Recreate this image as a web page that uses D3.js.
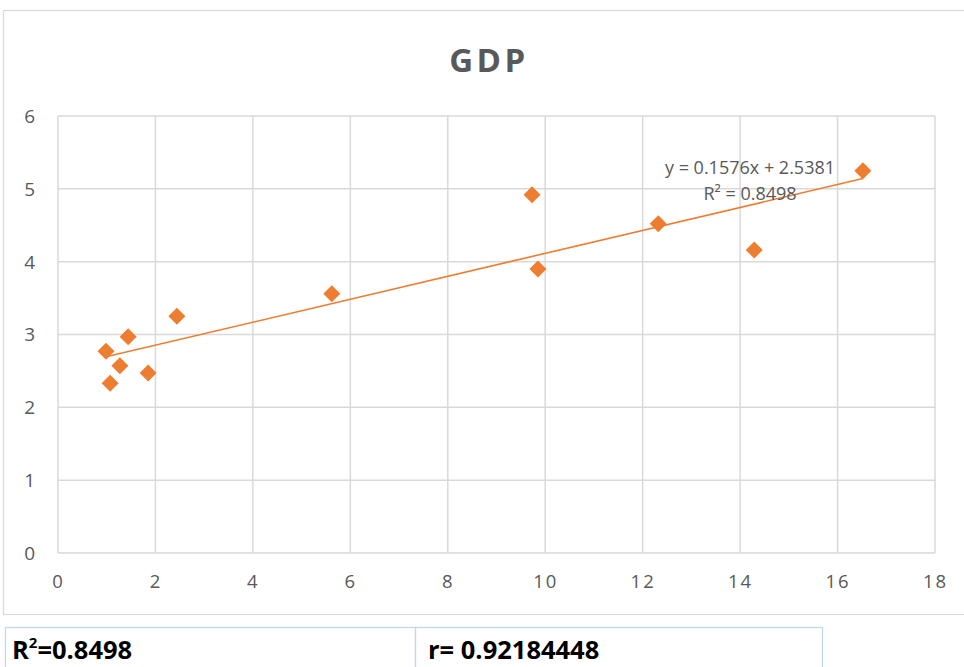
<!DOCTYPE html>
<html>
<head>
<meta charset="utf-8">
<script src="https://cdn.jsdelivr.net/npm/d3@7/dist/d3.min.js"></script>
<style>
  html, body { margin: 0; padding: 0; background: #fff; }
  svg { display: block; }
</style>
</head>
<body>
<svg id="chart" width="964" height="667"></svg>
<script>
// Observations (x, GDP)
const xValues = [0.985, 1.07, 1.27, 1.44, 1.85, 2.44, 5.62, 9.73, 9.85, 12.32, 14.29, 16.52];
const yValues = [2.77, 2.33, 2.57, 2.97, 2.47, 3.25, 3.56, 4.92, 3.90, 4.52, 4.16, 5.25];

// Linear trendline as reported
const trendSlope = 0.1576;
const trendIntercept = 2.5381;
const rSquared = 0.8498;
const rValue = 0.92184448;

const xTicks = [0, 2, 4, 6, 8, 10, 12, 14, 16, 18];
const yTicks = [0, 1, 2, 3, 4, 5, 6];
const titleText = "GDP";

const svg = d3.select("#chart");
const textGrey = "#595959";
const gridGrey = "#d9d9d9";
const orange = "#ED7D31";

// Outer chart frame
svg.append("rect")
  .attr("x", 3.5).attr("y", 10.5)
  .attr("width", 970).attr("height", 604)
  .attr("fill", "#fff").attr("stroke", gridGrey).attr("stroke-width", 1.2);

const x = d3.scaleLinear().domain([0, 18]).range([58, 935]);
const y = d3.scaleLinear().domain([0, 6]).range([553, 116]);

// Title
svg.append("text")
  .attr("x", 489).attr("y", 72)
  .attr("text-anchor", "middle")
  .attr("font-family", "'Open Sans', sans-serif")
  .attr("font-weight", "bold")
  .attr("font-size", 33)
  .attr("letter-spacing", 3.5)
  .attr("fill", textGrey)
  .text(titleText);

// Gridlines
const grid = svg.append("g").attr("stroke", gridGrey).attr("stroke-width", 1.5);
grid.selectAll("line.v").data(xTicks).join("line")
  .attr("class", "v")
  .attr("x1", d => x(d)).attr("x2", d => x(d))
  .attr("y1", y(6)).attr("y2", y(0));
grid.selectAll("line.h").data(yTicks).join("line")
  .attr("class", "h")
  .attr("x1", x(0)).attr("x2", x(18))
  .attr("y1", d => y(d)).attr("y2", d => y(d));

// Axes (labels only, lines drawn by the grid)
const yAxis = d3.axisLeft(y).tickValues(yTicks).tickFormat(d3.format("d")).tickSize(0).tickPadding(0);
const gy = svg.append("g").attr("transform", "translate(35,0)").call(yAxis);
gy.select(".domain").remove();
gy.selectAll("text")
  .attr("font-family", "'Open Sans', sans-serif")
  .attr("font-size", 19)
  .attr("fill", textGrey)
  .attr("dy", "0.34em");

const xAxis = d3.axisBottom(x).tickValues(xTicks).tickFormat(d3.format("d")).tickSize(0).tickPadding(0);
const gx = svg.append("g").attr("transform", "translate(0,575)").call(xAxis);
gx.select(".domain").remove();
gx.selectAll("text")
  .attr("font-family", "'Open Sans', sans-serif")
  .attr("font-size", 18.5)
  .attr("letter-spacing", 2)
  .attr("fill", textGrey)
  .attr("dy", "0.71em");

// Trendline across the observed x range
const xMin = d3.min(xValues), xMax = d3.max(xValues);
svg.append("line")
  .attr("x1", x(xMin)).attr("y1", y(trendSlope * xMin + trendIntercept))
  .attr("x2", x(xMax)).attr("y2", y(trendSlope * xMax + trendIntercept))
  .attr("stroke", orange).attr("stroke-width", 1.6);

// Markers (diamonds, half-diagonal r)
const r = 8.5;
const diamond = `M0,${-r}L${r},0L0,${r}L${-r},0Z`;
const points = xValues.map((v, i) => ({ x: v, y: yValues[i] }));
svg.append("g").selectAll("path").data(points).join("path")
  .attr("d", diamond)
  .attr("transform", d => `translate(${x(d.x)},${y(d.y)})`)
  .attr("fill", orange);

// Trendline equation
const eq = svg.append("text")
  .attr("text-anchor", "middle")
  .attr("font-family", "'Open Sans', sans-serif")
  .attr("font-size", 18)
  .attr("fill", textGrey);
eq.append("tspan").attr("x", 750).attr("y", 174)
  .text(`y = ${trendSlope}x + ${trendIntercept}`);
eq.append("tspan").attr("x", 750).attr("y", 200)
  .text(`R² = ${rSquared}`);

// Summary table below the chart
const table = svg.append("g");
const cells = [
  { x0: 5, x1: 415 },
  { x0: 415, x1: 822 }
];
table.selectAll("rect").data(cells).join("rect")
  .attr("x", d => d.x0 + 0.5).attr("y", 627.5)
  .attr("width", d => d.x1 - d.x0).attr("height", 60)
  .attr("fill", "none").attr("stroke", "#bdd7ee").attr("stroke-width", 1.2);

const fontTable = "'Open Sans', sans-serif";
const t1 = table.append("text")
  .attr("x", 12).attr("y", 659)
  .attr("font-family", fontTable).attr("font-weight", "bold")
  .attr("font-size", 25.5).attr("fill", "#000");
t1.append("tspan").text("R");
t1.append("tspan").attr("font-size", 15).attr("dy", -11).text("2");
t1.append("tspan").attr("dy", 11).text(`=${rSquared}`);

table.append("text")
  .attr("x", 428).attr("y", 659)
  .attr("font-family", fontTable).attr("font-weight", "bold")
  .attr("font-size", 25.5).attr("fill", "#000")
  .text(`r= ${rValue}`);
</script>
</body>
</html>
